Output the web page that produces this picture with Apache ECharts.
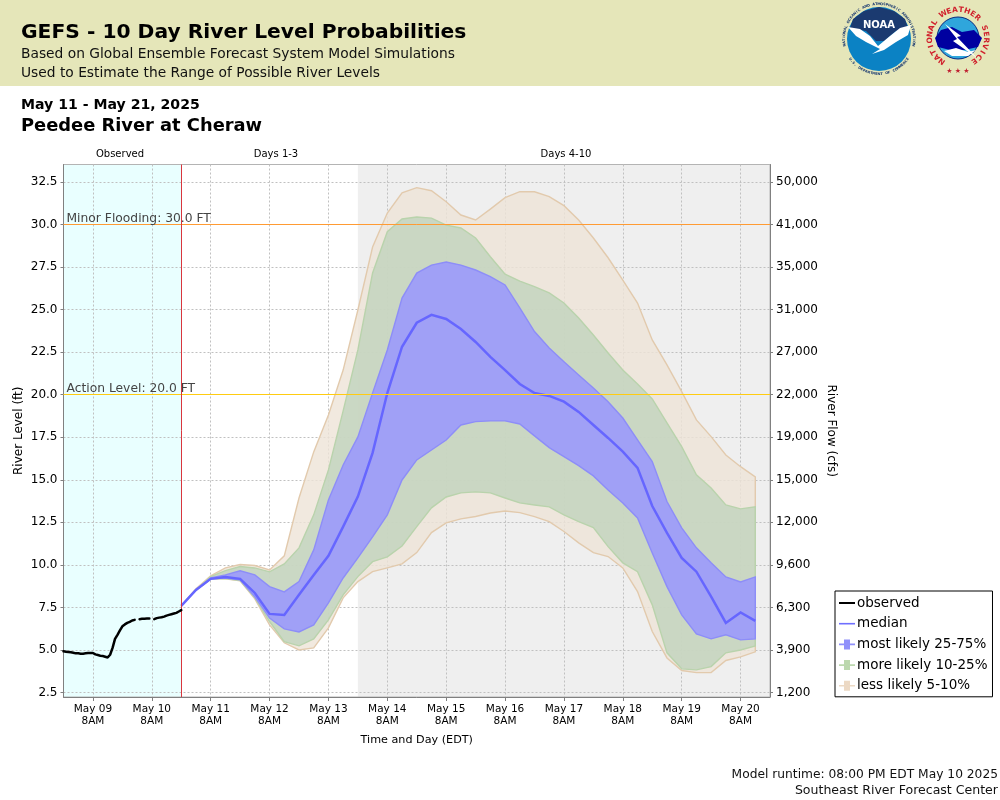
<!DOCTYPE html>
<html>
<head>
<meta charset="utf-8">
<title>GEFS - 10 Day River Level Probabilities</title>
<script src="https://cdn.jsdelivr.net/npm/echarts@6/dist/echarts.min.js"></script>
<style>
html, body { margin: 0; padding: 0; background: #fff; }
#chart { width: 1000px; height: 800px; }
</style>
</head>
<body>
<div id="chart"></div>
<script>
var FONT = '"DejaVu Sans", sans-serif';

// x axis is in hours after May 08 8PM EDT
var xMin = 0, xMax = 288;
var yMin = 2.235, yMax = 33.53;
var xTicks = [12, 36, 60, 84, 108, 132, 156, 180, 204, 228, 252, 276];
var xTickLabels = ['May 09', 'May 10', 'May 11', 'May 12', 'May 13', 'May 14', 'May 15', 'May 16', 'May 17', 'May 18', 'May 19', 'May 20'];
var stageTicks = [2.5, 5, 7.5, 10, 12.5, 15, 17.5, 20, 22.5, 25, 27.5, 30, 32.5];
var flowTickLabels = ['1,200', '3,900', '6,300', '9,600', '12,000', '15,000', '19,000', '22,000', '27,000', '31,000', '35,000', '41,000', '50,000'];

var actionLevel = 20;
var minorFlood = 30;
var forecastStart = 48;
var days4Start = 120;

// observed stage, hourly, null where the gauge has a gap
var observed = [4.92, 4.9, 4.88, 4.86, 4.84, 4.8, 4.8, 4.78, 4.78, 4.8, 4.82, 4.82, 4.82, 4.74, 4.7, 4.66, 4.64, 4.6, 4.56, 4.72,
	5.12, 5.65, 5.89, 6.15, 6.39, 6.5, 6.59, 6.65, 6.73, 6.77, null, 6.81, 6.83, 6.84, 6.85, 6.85, null, 6.81, 6.87, 6.9,
	6.92, 6.96, 7.02, 7.06, 7.1, 7.14, 7.18, 7.26, 7.34];

// forecast stages, one value every 6 hours from May 10 8PM
var median = [7.59, 8.53, 9.18, 9.29, 9.18, 8.35, 7.12, 7.06, 8.24, 9.41, 10.53, 12.25, 14.01, 16.58, 20.1, 22.82, 24.23, 24.69, 24.45, 23.86,
	23.1, 22.22, 21.45, 20.63, 20.1, 19.93, 19.59, 18.99, 18.22, 17.46, 16.66, 15.7, 13.46, 11.88, 10.41, 9.6, 8.14, 6.59, 7.2, 6.71];
var upper25 = [7.59, 8.53, 9.23, 9.41, 9.65, 9.41, 8.72, 8.41, 9.02, 10.88, 13.82, 15.87, 17.52, 20.1, 22.63, 25.68, 27.15, 27.62, 27.8, 27.62,
	27.33, 26.94, 26.45, 25.1, 23.71, 22.75, 21.94, 21.16, 20.4, 19.59, 18.63, 17.34, 16.07, 13.72, 12.17, 11.0, 10.12, 9.29, 9.0, 9.29];
var lower25 = [7.59, 8.53, 9.18, 9.23, 9.12, 8.12, 6.88, 6.24, 6.06, 6.47, 7.77, 9.23, 10.41, 11.64, 12.94, 14.99, 16.17, 16.75, 17.34, 18.22,
	18.42, 18.46, 18.46, 18.28, 17.58, 16.89, 16.36, 15.83, 15.23, 14.4, 13.64, 12.76, 10.7, 8.72, 7.06, 5.94, 5.65, 5.89, 5.59, 5.65];
var upper10 = [7.59, 8.53, 9.31, 9.66, 9.9, 9.82, 9.59, 10.06, 11.0, 12.94, 15.58, 19.05, 22.63, 27.15, 29.58, 30.33, 30.44, 30.38, 29.97, 29.8,
	29.21, 28.11, 27.09, 26.68, 26.35, 25.98, 25.39, 24.51, 23.51, 22.45, 21.45, 20.63, 19.75, 18.34, 16.95, 15.29, 14.52, 13.52, 13.29, 13.41];
var lower10 = [7.59, 8.53, 9.18, 9.2, 9.08, 8.06, 6.67, 5.49, 5.24, 5.65, 6.77, 8.24, 9.31, 10.19, 10.47, 11.11, 12.25, 13.35, 13.99, 14.23,
	14.29, 14.23, 13.93, 13.64, 13.52, 13.41, 12.94, 12.54, 12.19, 11.07, 10.12, 9.6, 7.65, 4.83, 3.89, 3.83, 4.02, 4.83, 5.0, 5.24];
var upper5 = [7.59, 8.59, 9.35, 9.82, 10.02, 9.96, 9.7, 10.53, 13.93, 16.64, 18.81, 21.45, 24.98, 28.68, 30.68, 31.87, 32.17, 31.99, 31.34, 30.56,
	30.27, 30.91, 31.58, 31.93, 31.93, 31.64, 31.11, 30.27, 29.21, 28.05, 26.74, 25.39, 23.22, 21.75, 20.18, 18.52, 17.54, 16.46, 15.77, 15.17];
var lower5 = [7.59, 8.53, 9.18, 9.18, 9.06, 8.0, 6.47, 5.42, 5.0, 5.12, 6.3, 8.06, 9.02, 9.6, 9.82, 10.06, 10.72, 11.9, 12.47, 12.7,
	12.84, 13.05, 13.17, 13.07, 12.84, 12.54, 11.96, 11.29, 10.72, 10.49, 9.82, 8.43, 6.08, 4.53, 3.79, 3.67, 3.67, 4.38, 4.59, 4.89];

// pair each value with its hour
function observedPoints() {
	var list = [];
	for (var i = 0; i < observed.length; i++) {
		list.push([i, observed[i]]);
	}
	return list;
}
function forecastPoints(values) {
	var list = [];
	for (var i = 0; i < values.length; i++) {
		list.push([forecastStart + i * 6, values[i]]);
	}
	return list;
}
function bandRows(low, high) {
	var list = [];
	for (var i = 0; i < low.length; i++) {
		list.push([forecastStart + i * 6, low[i], high[i]]);
	}
	return list;
}

// one closed polygon per band, drawn once from all of its rows
function bandSeries(name, low, high, fill, stroke) {
	return {
		name: name,
		type: 'custom',
		coordinateSystem: 'cartesian2d',
		z: 2,
		silent: true,
		data: bandRows(low, high),
		encode: { x: 0, y: [1, 2] },
		itemStyle: { color: fill },
		renderItem: function(params, api) {
			if (params.dataIndex != 0) {
				return null;
			}
			var pts = [];
			var n = low.length;
			for (var i = 0; i < n; i++) {
				pts.push(api.coord([forecastStart + i * 6, high[i]]));
			}
			for (var j = n - 1; j >= 0; j--) {
				pts.push(api.coord([forecastStart + j * 6, low[j]]));
			}
			return {
				type: 'polygon',
				shape: { points: pts },
				style: { fill: fill, stroke: stroke, lineWidth: 1.4 }
			};
		}
	};
}

// background shading for the observed period and for days 4-10
var regionColors = ['#e9ffff', '#efefef'];
var regionSeries = {
	type: 'custom',
	coordinateSystem: 'cartesian2d',
	z: -1,
	silent: true,
	data: [[xMin, forecastStart], [days4Start, xMax]],
	encode: { x: [0, 1] },
	renderItem: function(params, api) {
		var a = api.coord([api.value(0), yMax]);
		var b = api.coord([api.value(1), yMin]);
		return {
			type: 'rect',
			shape: { x: a[0], y: a[1], width: b[0] - a[0], height: b[1] - a[1] },
			style: { fill: regionColors[params.dataIndex] }
		};
	}
};

function levelLine(value, color, text) {
	return {
		yAxis: value,
		lineStyle: { color: color, width: 1, type: 'solid' },
		label: {
			show: true,
			formatter: text,
			position: 'insideStartTop',
			distance: [3, 0],
			color: '#444',
			fontFamily: FONT,
			fontSize: 12.3
		}
	};
}

// letters set around a circle for the two logos
function ringText(text, cx, cy, r, startDeg, endDeg, color, size, flip) {
	var list = [];
	for (var i = 0; i < text.length; i++) {
		var deg = startDeg + (endDeg - startDeg) * i / (text.length - 1);
		var rad = deg * Math.PI / 180;
		list.push({
			type: 'text',
			x: cx + r * Math.cos(rad),
			y: cy - r * Math.sin(rad),
			rotation: flip ? rad + Math.PI / 2 : rad - Math.PI / 2,
			style: { text: text.charAt(i), fill: color, font: 'bold ' + size + 'px ' + FONT, align: 'center', verticalAlign: 'middle' }
		});
	}
	return list;
}

function label(text, x, y, size, opts) {
	opts = opts || {};
	return {
		type: 'text',
		x: x,
		y: y,
		style: {
			text: text,
			fill: opts.color || '#000',
			font: (opts.bold ? 'bold ' : '') + size + 'px ' + FONT,
			align: opts.align || 'left',
			verticalAlign: 'middle'
		}
	};
}

var graphics = [
	{ type: 'rect', shape: { x: 0, y: 0, width: 1000, height: 86 }, style: { fill: '#e5e6b9' } },
	label('GEFS - 10 Day River Level Probabilities', 21, 33, 20.25, { bold: true }),
	label('Based on Global Ensemble Forecast System Model Simulations', 21, 54.5, 13.8, { color: '#111' }),
	label('Used to Estimate the Range of Possible River Levels', 21, 73.5, 13.8, { color: '#111' }),
	label('May 11 - May 21, 2025', 21, 105.5, 14.1, { bold: true }),
	label('Peedee River at Cheraw', 21, 126.5, 17.85, { bold: true }),
	label('Observed', 120, 154, 10, { align: 'center' }),
	label('Days 1-3', 276, 154, 10, { align: 'center' }),
	label('Days 4-10', 566, 154, 10, { align: 'center' }),
	label('Model runtime: 08:00 PM EDT May 10 2025', 998, 775, 12.25, { align: 'right', color: '#111' }),
	label('Southeast River Forecast Center', 998, 791, 12.55, { align: 'right', color: '#111' }),

	// NOAA logo
	{ type: 'circle', shape: { cx: 879, cy: 39, r: 32 }, style: { fill: '#0b82c4' } },
	{ type: 'polygon', shape: { points: [[853, 19], [864, 11], [879, 7], [894, 11], [905, 19], [908, 28], [896, 31], [884, 41], [876, 41], [866, 31], [850, 28]] }, style: { fill: '#1b3a70' } },
	{ type: 'polygon', shape: { points: [[848, 27], [860, 29], [870, 36], [878, 46], [890, 36], [900, 28], [911, 25], [908, 35], [896, 42], [884, 50], [872, 54], [880, 49], [866, 42], [856, 36]] }, style: { fill: '#ffffff' } },
	{ type: 'text', x: 879, y: 25, style: { text: 'NOAA', fill: '#fff', font: 'bold 10px ' + FONT, align: 'center', verticalAlign: 'middle' } },

	// NWS logo
	{ type: 'circle', shape: { cx: 958, cy: 38, r: 21 }, style: { fill: '#2fa6dc', stroke: '#0a2a80', lineWidth: 1 } },
	{ type: 'polygon', shape: { points: [[935, 38], [941, 30], [952, 27], [962, 32], [974, 30], [982, 38], [978, 47], [964, 50], [950, 50], [938, 47]] }, style: { fill: '#0000a0' } },
	{ type: 'polygon', shape: { points: [[944, 51], [956, 48], [968, 52], [976, 50], [968, 56], [952, 56]] }, style: { fill: '#ffffff' } },
	{ type: 'polygon', shape: { points: [[945, 24], [961, 36], [957, 37], [977, 58], [953, 41], [957, 39]] }, style: { fill: '#ffffff' } },
	{ type: 'text', x: 958, y: 71, style: { text: '★ ★ ★', fill: '#c02030', font: '7px ' + FONT, align: 'center', verticalAlign: 'middle' } }
];
graphics = graphics.concat(ringText('NATIONAL OCEANIC AND ATMOSPHERIC ADMINISTRATION', 879, 39, 35, 190, -10, '#1b3a70', 3.5, false));
graphics = graphics.concat(ringText('U.S. DEPARTMENT OF COMMERCE', 879, 39, 35, 215, 325, '#1b3a70', 3.5, true));
graphics = graphics.concat(ringText('NATIONAL WEATHER SERVICE', 958, 38, 28, 235, -55, '#d01f2b', 7.5, false));

var chart = echarts.init(document.getElementById('chart'), null, { renderer: 'canvas' });
var option = {
	animation: false,
	backgroundColor: '#ffffff',
	textStyle: { fontFamily: FONT },
	graphic: graphics,
	grid: {
		show: true,
		left: 63.5,
		right: 230,
		top: 164.5,
		bottom: 103,
		outerBoundsMode: 'none',
		borderColor: '#b4b4b4',
		borderWidth: 1,
		backgroundColor: 'transparent'
	},
	legend: {
		orient: 'vertical',
		left: 835,
		top: 591,
		padding: [5, 5, 4, 4],
		itemWidth: 16,
		itemHeight: 10,
		itemGap: 6.7,
		borderColor: '#000',
		borderWidth: 1,
		backgroundColor: '#fff',
		selectedMode: false,
		textStyle: { color: '#000', fontFamily: FONT, fontSize: 13.5, padding: [0, 0, 0, -3] },
		data: [
			{ name: 'observed', icon: 'path://M0 0L0 0M0 4H16V6H0ZM16 10L16 10', itemStyle: { color: '#000' } },
			{ name: 'median', icon: 'path://M0 0L0 0M0 4.2H16V5.8H0ZM16 10L16 10', itemStyle: { color: '#6f6fff' } },
			{ name: 'most likely 25-75%', icon: 'path://M0 4.2H5V0H11V4.2H16V5.8H11V10H5V5.8H0Z', itemStyle: { color: '#9090fa' } },
			{ name: 'more likely 10-25%', icon: 'path://M0 4.2H5V0H11V4.2H16V5.8H11V10H5V5.8H0Z', itemStyle: { color: '#bcd8ae' } },
			{ name: 'less likely 5-10%', icon: 'path://M0 4.2H5V0H11V4.2H16V5.8H11V10H5V5.8H0Z', itemStyle: { color: '#ecd9c4' } }
		]
	},
	xAxis: {
		type: 'value',
		min: xMin,
		max: xMax,
		name: 'Time and Day (EDT)',
		nameLocation: 'middle',
		nameGap: 38,
		nameMoveOverlap: false,
		nameTextStyle: { color: '#000', fontFamily: FONT, fontSize: 11.2 },
		axisLine: { onZero: false, lineStyle: { color: '#808080', width: 1 } },
		axisTick: { show: true, length: 4, customValues: xTicks, lineStyle: { color: '#808080' } },
		axisLabel: {
			customValues: xTicks,
			color: '#000',
			fontFamily: FONT,
			fontSize: 10.5,
			lineHeight: 12,
			margin: 6,
			formatter: function(value) {
				return xTickLabels[xTicks.indexOf(value)] + '\n8AM';
			}
		},
		splitLine: { show: true, lineStyle: { color: '#c0c0c0', width: 1, type: [2, 2] } }
	},
	yAxis: [{
		type: 'value',
		min: yMin,
		max: yMax,
		name: 'River Level (ft)',
		nameLocation: 'middle',
		nameGap: 39,
		nameMoveOverlap: false,
		nameTextStyle: { color: '#000', fontFamily: FONT, fontSize: 12 },
		axisLine: { show: true, onZero: false, lineStyle: { color: '#808080', width: 1 } },
		axisTick: { show: true, length: 3, customValues: stageTicks, lineStyle: { color: '#808080' } },
		axisLabel: {
			customValues: stageTicks,
			color: '#000',
			fontFamily: FONT,
			fontSize: 12,
			margin: 6,
			formatter: function(value) {
				return value.toFixed(1);
			}
		},
		splitLine: { show: true, lineStyle: { color: '#c0c0c0', width: 1, type: [2, 2] } }
	}, {
		type: 'value',
		position: 'right',
		min: yMin,
		max: yMax,
		name: 'River Flow (cfs)',
		nameLocation: 'middle',
		nameRotate: -90,
		nameGap: 55,
		nameMoveOverlap: false,
		nameTextStyle: { color: '#000', fontFamily: FONT, fontSize: 12 },
		axisLine: { show: true, onZero: false, lineStyle: { color: '#808080', width: 1 } },
		axisTick: { show: true, length: 3, customValues: stageTicks, lineStyle: { color: '#808080' } },
		axisLabel: {
			customValues: stageTicks,
			color: '#000',
			fontFamily: FONT,
			fontSize: 12,
			margin: 6,
			formatter: function(value) {
				return flowTickLabels[stageTicks.indexOf(value)];
			}
		},
		splitLine: { show: false }
	}],
	series: [
		regionSeries,
		bandSeries('less likely 5-10%', lower5, upper5, 'rgba(238,228,215,0.8)', '#e2caad'),
		bandSeries('more likely 10-25%', lower10, upper10, 'rgba(192,211,189,0.8)', '#b9d3ac'),
		bandSeries('most likely 25-75%', lower25, upper25, 'rgba(153,150,255,0.85)', '#8d8df8'),
		{
			name: 'median',
			type: 'line',
			z: 4,
			showSymbol: false,
			silent: true,
			data: forecastPoints(median),
			lineStyle: { color: '#6666ff', width: 2.5, join: 'miter' },
			itemStyle: { color: '#6666ff' },
			markLine: {
				silent: true,
				symbol: 'none',
				animation: false,
				data: [
					levelLine(minorFlood, '#ff9b33', 'Minor Flooding: 30.0 FT'),
					levelLine(actionLevel, '#ffcc11', 'Action Level: 20.0 FT'),
					{ xAxis: forecastStart, lineStyle: { color: '#d9363e', width: 1, type: 'solid' }, label: { show: false } }
				]
			}
		},
		{
			name: 'observed',
			type: 'line',
			z: 5,
			showSymbol: false,
			silent: true,
			connectNulls: false,
			data: observedPoints(),
			lineStyle: { color: '#000', width: 2.5, cap: 'round' },
			itemStyle: { color: '#000' }
		}
	]
};
chart.setOption(option);
</script>
</body>
</html>
